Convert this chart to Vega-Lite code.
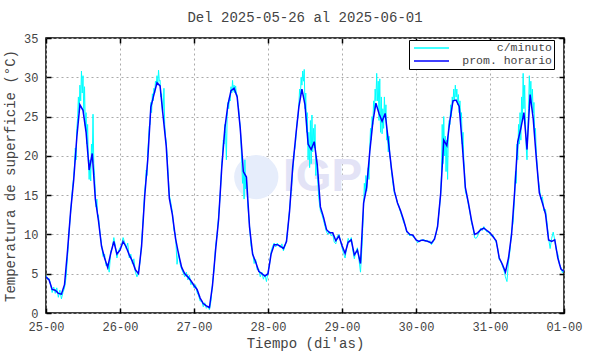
{
  "$schema": "https://vega.github.io/schema/vega-lite/v6.json",
  "autosize": "none",
  "width": 518,
  "height": 275,
  "padding": {"left": 46, "top": 38, "right": 26, "bottom": 41},
  "background": "white",
  "title": {"text": "Del 2025-05-26 al 2025-06-01", "font": "Liberation Mono", "fontSize": 14, "fontWeight": "normal", "color": "#444444", "offset": 7, "anchor": "middle"},
  "config": {
    "view": {"stroke": "black", "strokeWidth": 1.5},
    "axis": {"labelFont": "Liberation Mono", "labelFontSize": 12, "labelColor": "#444444", "titleFont": "Liberation Mono", "titleFontSize": 14, "titleFontWeight": "normal", "titleColor": "#444444", "domain": false, "tickColor": "black", "tickWidth": 1.5, "gridColor": "#aaaaaa", "gridDash": [2, 3], "gridWidth": 1, "labelFlush": false}
  },
  "datasets": {
    "horario": [
      {"h":0,"t":4.6},{"h":1,"t":4.2},{"h":2,"t":3.0},{"h":3,"t":2.9},{"h":4,"t":2.5},{"h":5,"t":2.4},{"h":6,"t":3.6},{"h":7,"t":8.0},{"h":8,"t":13.0},{"h":9,"t":17.0},{"h":10,"t":22.4},{"h":11,"t":26.5},{"h":12,"t":25.8},{"h":13,"t":23.0},{"h":14,"t":18.2},{"h":15,"t":20.3},{"h":16,"t":14.5},{"h":17,"t":11.8},{"h":18,"t":8.5},{"h":19,"t":7.0},{"h":20,"t":5.8},{"h":21,"t":7.6},{"h":22,"t":9.1},{"h":23,"t":7.5},
      {"h":24,"t":8.0},{"h":25,"t":9.1},{"h":26,"t":8.4},{"h":27,"t":7.4},{"h":28,"t":6.6},{"h":29,"t":5.5},{"h":30,"t":5.0},{"h":31,"t":8.5},{"h":32,"t":14.8},{"h":33,"t":19.5},{"h":34,"t":26.2},{"h":35,"t":27.8},{"h":36,"t":29.3},{"h":37,"t":28.9},{"h":38,"t":25.0},{"h":39,"t":21.2},{"h":40,"t":14.6},{"h":41,"t":12.5},{"h":42,"t":9.5},{"h":43,"t":7.5},{"h":44,"t":5.8},{"h":45,"t":5.0},{"h":46,"t":4.6},{"h":47,"t":4.1},
      {"h":48,"t":3.5},{"h":49,"t":3.0},{"h":50,"t":1.9},{"h":51,"t":1.2},{"h":52,"t":0.9},{"h":53,"t":0.7},{"h":54,"t":3.5},{"h":55,"t":8.0},{"h":56,"t":12.0},{"h":57,"t":18.5},{"h":58,"t":23.5},{"h":59,"t":26.5},{"h":60,"t":28.3},{"h":61,"t":28.6},{"h":62,"t":27.5},{"h":63,"t":23.5},{"h":64,"t":18.0},{"h":65,"t":17.3},{"h":66,"t":11.0},{"h":67,"t":7.5},{"h":68,"t":6.5},{"h":69,"t":5.3},{"h":70,"t":5.0},{"h":71,"t":4.7},
      {"h":72,"t":5.0},{"h":73,"t":7.5},{"h":74,"t":8.7},{"h":75,"t":8.7},{"h":76,"t":8.5},{"h":77,"t":8.2},{"h":78,"t":9.1},{"h":79,"t":13.0},{"h":80,"t":18.5},{"h":81,"t":22.5},{"h":82,"t":26.2},{"h":83,"t":28.5},{"h":84,"t":26.5},{"h":85,"t":21.5},{"h":86,"t":20.8},{"h":87,"t":21.8},{"h":88,"t":18.8},{"h":89,"t":13.5},{"h":90,"t":12.2},{"h":91,"t":10.6},{"h":92,"t":10.2},{"h":93,"t":10.2},{"h":94,"t":9.2},{"h":95,"t":9.8},
      {"h":96,"t":8.6},{"h":97,"t":7.6},{"h":98,"t":9.0},{"h":99,"t":9.3},{"h":100,"t":7.4},{"h":101,"t":8.0},{"h":102,"t":6.3},{"h":103,"t":14.0},{"h":104,"t":16.0},{"h":105,"t":20.5},{"h":106,"t":24.3},{"h":107,"t":26.7},{"h":108,"t":25.4},{"h":109,"t":24.4},{"h":110,"t":25.4},{"h":111,"t":22.0},{"h":112,"t":18.5},{"h":113,"t":15.5},{"h":114,"t":14.0},{"h":115,"t":13.0},{"h":116,"t":11.8},{"h":117,"t":10.4},{"h":118,"t":10.0},{"h":119,"t":9.9},
      {"h":120,"t":9.3},{"h":121,"t":9.1},{"h":122,"t":9.3},{"h":123,"t":9.2},{"h":124,"t":9.1},{"h":125,"t":8.9},{"h":126,"t":9.4},{"h":127,"t":11.0},{"h":128,"t":15.2},{"h":129,"t":22.0},{"h":130,"t":21.3},{"h":131,"t":24.5},{"h":132,"t":27.0},{"h":133,"t":27.1},{"h":134,"t":26.3},{"h":135,"t":21.5},{"h":136,"t":16.0},{"h":137,"t":14.0},{"h":138,"t":11.8},{"h":139,"t":10.0},{"h":140,"t":10.2},{"h":141,"t":10.6},{"h":142,"t":10.8},{"h":143,"t":10.5},
      {"h":144,"t":10.2},{"h":145,"t":9.7},{"h":146,"t":9.2},{"h":147,"t":7.0},{"h":148,"t":6.2},{"h":149,"t":5.2},{"h":150,"t":7.0},{"h":151,"t":10.0},{"h":152,"t":15.5},{"h":153,"t":21.8},{"h":154,"t":23.5},{"h":155,"t":25.5},{"h":156,"t":20.8},{"h":157,"t":27.8},{"h":158,"t":24.8},{"h":159,"t":19.8},{"h":160,"t":15.3},{"h":161,"t":14.0},{"h":162,"t":12.6},{"h":163,"t":9.3},{"h":164,"t":9.1},{"h":165,"t":9.3},{"h":166,"t":7.0},{"h":167,"t":5.6},{"h":168,"t":5.3}
    ],
    "minuto": [
      {"h":0,"t":4.8},{"h":0.5,"t":4.3},{"h":1,"t":4.4},{"h":1.5,"t":3.6},{"h":2,"t":2.6},{"h":2.5,"t":3.3},{"h":3,"t":2.5},{"h":3.5,"t":3.2},{"h":4,"t":2.0},{"h":4.5,"t":2.9},{"h":5,"t":1.8},{"h":5.5,"t":2.6},{"h":6,"t":3.2},{"h":6.5,"t":4.5},{"h":7,"t":7.2},{"h":7.5,"t":10.5},{"h":8,"t":12.8},{"h":8.5,"t":15.5},{"h":9,"t":17.5},{"h":9.25,"t":18.8},{"h":9.5,"t":21.0},{"h":9.75,"t":19.5},{"h":10,"t":23.5},{"h":10.25,"t":24.8},{"h":10.5,"t":27.5},{"h":10.75,"t":25.5},{"h":11,"t":29.0},{"h":11.25,"t":27.0},{"h":11.5,"t":30.8},{"h":11.75,"t":28.0},{"h":12,"t":30.2},{"h":12.25,"t":25.5},{"h":12.5,"t":28.8},{"h":12.75,"t":23.8},{"h":13,"t":25.5},{"h":13.25,"t":21.5},{"h":13.5,"t":24.0},{"h":13.75,"t":19.5},{"h":14,"t":17.0},{"h":14.25,"t":19.5},{"h":14.5,"t":16.8},{"h":14.75,"t":21.5},{"h":15,"t":19.5},{"h":15.25,"t":25.3},{"h":15.5,"t":19.0},{"h":15.75,"t":17.5},{"h":16,"t":15.2},{"h":16.25,"t":13.5},{"h":16.5,"t":14.5},{"h":16.75,"t":12.2},{"h":17,"t":12.5},{"h":17.5,"t":10.2},{"h":18,"t":8.8},{"h":18.5,"t":7.2},{"h":19,"t":7.5},{"h":19.5,"t":6.0},{"h":20,"t":6.3},{"h":20.5,"t":5.2},{"h":21,"t":7.8},{"h":21.5,"t":8.3},{"h":22,"t":9.6},{"h":22.5,"t":8.5},{"h":23,"t":7.0},{"h":23.5,"t":7.9},
      {"h":24,"t":8.3},{"h":24.5,"t":8.6},{"h":25,"t":9.6},{"h":25.5,"t":9.0},{"h":26,"t":8.2},{"h":26.5,"t":8.9},{"h":27,"t":7.0},{"h":27.5,"t":7.5},{"h":28,"t":6.3},{"h":28.5,"t":6.9},{"h":29,"t":5.2},{"h":29.5,"t":4.6},{"h":30,"t":5.3},{"h":30.5,"t":6.5},{"h":31,"t":8.9},{"h":31.5,"t":12.0},{"h":32,"t":15.5},{"h":32.25,"t":16.5},{"h":32.5,"t":18.2},{"h":32.75,"t":17.5},{"h":33,"t":20.5},{"h":33.25,"t":22.0},{"h":33.5,"t":23.8},{"h":33.75,"t":24.0},{"h":34,"t":26.8},{"h":34.25,"t":25.5},{"h":34.5,"t":27.9},{"h":34.75,"t":27.0},{"h":35,"t":28.6},{"h":35.25,"t":28.0},{"h":35.5,"t":29.5},{"h":35.75,"t":29.0},{"h":36,"t":30.2},{"h":36.25,"t":29.0},{"h":36.5,"t":30.9},{"h":36.75,"t":29.5},{"h":37,"t":29.6},{"h":37.25,"t":27.5},{"h":37.5,"t":27.9},{"h":37.75,"t":25.5},{"h":38,"t":26.0},{"h":38.25,"t":28.6},{"h":38.5,"t":24.0},{"h":38.75,"t":22.5},{"h":39,"t":21.8},{"h":39.5,"t":18.5},{"h":40,"t":15.0},{"h":40.5,"t":14.0},{"h":41,"t":12.8},{"h":41.5,"t":10.5},{"h":42,"t":10.0},{"h":42.5,"t":6.2},{"h":43,"t":7.8},{"h":43.5,"t":6.2},{"h":44,"t":5.6},{"h":44.5,"t":5.1},{"h":45,"t":4.6},{"h":45.5,"t":5.2},{"h":46,"t":4.2},{"h":46.5,"t":4.8},{"h":47,"t":3.6},{"h":47.5,"t":3.9},
      {"h":48,"t":3.2},{"h":48.5,"t":3.6},{"h":49,"t":2.6},{"h":49.5,"t":2.2},{"h":50,"t":1.5},{"h":50.5,"t":1.6},{"h":51,"t":0.8},{"h":51.5,"t":1.3},{"h":52,"t":0.6},{"h":52.5,"t":0.9},{"h":53,"t":0.4},{"h":53.5,"t":1.5},{"h":54,"t":3.8},{"h":54.5,"t":5.5},{"h":55,"t":8.5},{"h":55.5,"t":10.0},{"h":56,"t":12.5},{"h":56.5,"t":15.0},{"h":57,"t":19.0},{"h":57.25,"t":20.0},{"h":57.5,"t":22.0},{"h":57.75,"t":21.5},{"h":58,"t":24.0},{"h":58.25,"t":22.8},{"h":58.5,"t":19.5},{"h":58.75,"t":25.0},{"h":59,"t":26.8},{"h":59.25,"t":26.0},{"h":59.5,"t":27.5},{"h":59.75,"t":27.0},{"h":60,"t":28.8},{"h":60.25,"t":28.0},{"h":60.5,"t":29.6},{"h":60.75,"t":28.2},{"h":61,"t":29.0},{"h":61.25,"t":28.0},{"h":61.5,"t":28.9},{"h":61.75,"t":27.8},{"h":62,"t":27.8},{"h":62.25,"t":26.5},{"h":62.5,"t":26.0},{"h":62.75,"t":24.5},{"h":63,"t":23.8},{"h":63.25,"t":21.5},{"h":63.5,"t":19.0},{"h":63.75,"t":16.5},{"h":64,"t":18.2},{"h":64.25,"t":14.5},{"h":64.5,"t":19.5},{"h":64.75,"t":15.8},{"h":65,"t":17.0},{"h":65.5,"t":13.5},{"h":66,"t":11.2},{"h":66.5,"t":8.5},{"h":67,"t":7.8},{"h":67.5,"t":6.3},{"h":68,"t":6.8},{"h":68.5,"t":5.5},{"h":69,"t":5.6},{"h":69.5,"t":4.6},{"h":70,"t":5.2},{"h":70.5,"t":4.3},{"h":71,"t":4.9},{"h":71.5,"t":4.0},
      {"h":72,"t":5.2},{"h":72.5,"t":6.2},{"h":73,"t":7.8},{"h":73.5,"t":8.5},{"h":74,"t":8.9},{"h":74.5,"t":8.4},{"h":75,"t":8.9},{"h":75.5,"t":8.6},{"h":76,"t":8.3},{"h":76.5,"t":8.8},{"h":77,"t":7.9},{"h":77.5,"t":8.5},{"h":78,"t":9.3},{"h":78.5,"t":11.0},{"h":79,"t":13.2},{"h":79.5,"t":15.5},{"h":80,"t":18.0},{"h":80.25,"t":19.0},{"h":80.5,"t":20.5},{"h":80.75,"t":21.0},{"h":81,"t":22.0},{"h":81.25,"t":23.5},{"h":81.5,"t":24.5},{"h":81.75,"t":25.0},{"h":82,"t":26.5},{"h":82.25,"t":28.5},{"h":82.5,"t":27.5},{"h":82.75,"t":30.0},{"h":83,"t":29.0},{"h":83.25,"t":30.8},{"h":83.5,"t":29.5},{"h":83.75,"t":31.0},{"h":84,"t":26.0},{"h":84.25,"t":28.0},{"h":84.5,"t":23.0},{"h":84.75,"t":25.5},{"h":85,"t":19.5},{"h":85.25,"t":23.0},{"h":85.5,"t":18.5},{"h":85.75,"t":24.5},{"h":86,"t":19.0},{"h":86.25,"t":25.2},{"h":86.5,"t":20.5},{"h":86.75,"t":23.5},{"h":87,"t":21.0},{"h":87.25,"t":24.0},{"h":87.5,"t":17.5},{"h":87.75,"t":19.5},{"h":88,"t":17.5},{"h":88.5,"t":14.5},{"h":89,"t":13.0},{"h":89.5,"t":12.5},{"h":90,"t":11.8},{"h":90.5,"t":11.0},{"h":91,"t":10.3},{"h":91.5,"t":10.0},{"h":92,"t":10.4},{"h":92.5,"t":9.8},{"h":93,"t":10.0},{"h":93.5,"t":9.0},{"h":94,"t":8.8},{"h":94.5,"t":9.8},{"h":95,"t":10.0},{"h":95.5,"t":9.2},
      {"h":96,"t":8.3},{"h":96.5,"t":7.6},{"h":97,"t":7.0},{"h":97.5,"t":8.3},{"h":98,"t":9.5},{"h":98.5,"t":9.0},{"h":99,"t":9.6},{"h":99.5,"t":8.0},{"h":100,"t":6.9},{"h":100.5,"t":7.8},{"h":101,"t":8.3},{"h":101.5,"t":6.8},{"h":102,"t":5.2},{"h":102.5,"t":8.5},{"h":103,"t":13.5},{"h":103.25,"t":16.5},{"h":103.5,"t":15.0},{"h":103.75,"t":17.5},{"h":104,"t":15.5},{"h":104.25,"t":17.5},{"h":104.5,"t":18.5},{"h":104.75,"t":17.0},{"h":105,"t":21.0},{"h":105.25,"t":23.5},{"h":105.5,"t":22.0},{"h":105.75,"t":25.0},{"h":106,"t":24.0},{"h":106.25,"t":27.0},{"h":106.5,"t":25.5},{"h":106.75,"t":28.5},{"h":107,"t":27.0},{"h":107.25,"t":30.5},{"h":107.5,"t":27.0},{"h":107.75,"t":29.5},{"h":108,"t":24.5},{"h":108.25,"t":29.8},{"h":108.5,"t":23.0},{"h":108.75,"t":27.5},{"h":109,"t":22.8},{"h":109.25,"t":26.0},{"h":109.5,"t":23.5},{"h":109.75,"t":27.5},{"h":110,"t":24.8},{"h":110.25,"t":26.5},{"h":110.5,"t":22.0},{"h":110.75,"t":23.0},{"h":111,"t":20.5},{"h":111.25,"t":22.5},{"h":111.5,"t":20.0},{"h":111.75,"t":19.5},{"h":112,"t":18.2},{"h":112.5,"t":16.5},{"h":113,"t":15.2},{"h":113.5,"t":14.8},{"h":114,"t":14.0},{"h":114.5,"t":13.6},{"h":115,"t":12.8},{"h":115.5,"t":12.2},{"h":116,"t":11.5},{"h":116.5,"t":11.2},{"h":117,"t":10.3},{"h":117.5,"t":10.1},{"h":118,"t":9.8},{"h":118.5,"t":10.0},{"h":119,"t":9.7},{"h":119.5,"t":9.6},
      {"h":120,"t":9.4},{"h":120.5,"t":8.9},{"h":121,"t":9.2},{"h":121.5,"t":9.3},{"h":122,"t":9.2},{"h":122.5,"t":9.4},{"h":123,"t":9.1},{"h":123.5,"t":9.3},{"h":124,"t":9.0},{"h":124.5,"t":9.2},{"h":125,"t":8.7},{"h":125.5,"t":9.0},{"h":126,"t":9.6},{"h":126.5,"t":10.0},{"h":127,"t":11.2},{"h":127.5,"t":13.0},{"h":128,"t":15.0},{"h":128.25,"t":17.5},{"h":128.5,"t":24.0},{"h":128.75,"t":19.0},{"h":129,"t":25.0},{"h":129.25,"t":20.0},{"h":129.5,"t":22.5},{"h":129.75,"t":18.0},{"h":130,"t":22.0},{"h":130.25,"t":17.0},{"h":130.5,"t":23.5},{"h":130.75,"t":24.5},{"h":131,"t":24.0},{"h":131.25,"t":26.5},{"h":131.5,"t":25.0},{"h":131.75,"t":27.5},{"h":132,"t":26.8},{"h":132.25,"t":28.5},{"h":132.5,"t":27.0},{"h":132.75,"t":29.0},{"h":133,"t":27.5},{"h":133.25,"t":28.5},{"h":133.5,"t":26.5},{"h":133.75,"t":27.8},{"h":134,"t":25.5},{"h":134.25,"t":27.0},{"h":134.5,"t":24.5},{"h":134.75,"t":25.5},{"h":135,"t":21.5},{"h":135.25,"t":23.0},{"h":135.5,"t":19.5},{"h":135.75,"t":18.0},{"h":136,"t":15.5},{"h":136.5,"t":14.8},{"h":137,"t":13.8},{"h":137.5,"t":12.8},{"h":138,"t":11.5},{"h":138.5,"t":10.8},{"h":139,"t":9.6},{"h":139.5,"t":9.5},{"h":140,"t":9.8},{"h":140.5,"t":10.3},{"h":141,"t":10.8},{"h":141.5,"t":10.5},{"h":142,"t":11.0},{"h":142.5,"t":10.6},{"h":143,"t":10.3},{"h":143.5,"t":10.4},
      {"h":144,"t":10.0},{"h":144.5,"t":9.8},{"h":145,"t":9.9},{"h":145.5,"t":9.4},{"h":146,"t":9.0},{"h":146.5,"t":8.2},{"h":147,"t":6.8},{"h":147.5,"t":6.6},{"h":148,"t":6.0},{"h":148.5,"t":5.5},{"h":149,"t":4.6},{"h":149.5,"t":4.0},{"h":150,"t":6.5},{"h":150.5,"t":8.0},{"h":151,"t":10.5},{"h":151.5,"t":11.5},{"h":152,"t":15.0},{"h":152.25,"t":18.0},{"h":152.5,"t":16.5},{"h":152.75,"t":21.5},{"h":153,"t":19.5},{"h":153.25,"t":24.0},{"h":153.5,"t":21.5},{"h":153.75,"t":25.5},{"h":154,"t":22.0},{"h":154.25,"t":27.5},{"h":154.5,"t":24.5},{"h":154.75,"t":30.5},{"h":155,"t":26.0},{"h":155.25,"t":29.0},{"h":155.5,"t":24.0},{"h":155.75,"t":21.0},{"h":156,"t":19.5},{"h":156.25,"t":23.0},{"h":156.5,"t":26.0},{"h":156.75,"t":30.2},{"h":157,"t":27.5},{"h":157.25,"t":29.5},{"h":157.5,"t":26.5},{"h":157.75,"t":28.5},{"h":158,"t":25.5},{"h":158.25,"t":26.8},{"h":158.5,"t":22.5},{"h":158.75,"t":23.5},{"h":159,"t":20.5},{"h":159.5,"t":17.5},{"h":160,"t":16.0},{"h":160.5,"t":14.5},{"h":161,"t":14.8},{"h":161.5,"t":13.0},{"h":162,"t":13.2},{"h":162.5,"t":11.5},{"h":163,"t":9.5},{"h":163.5,"t":8.2},{"h":164,"t":9.5},{"h":164.5,"t":10.3},{"h":165,"t":9.3},{"h":165.5,"t":8.0},{"h":166,"t":7.5},{"h":166.5,"t":6.2},{"h":167,"t":5.8},{"h":167.5,"t":5.1},{"h":168,"t":5.5}
    ],
    "marca": [{"h": 68.2, "t": 17.3, "texto": "IGP", "h2": 89.7}]
  },
  "resolve": {"axis": {"x": "independent", "y": "independent"}},
  "layer": [
    {
      "data": {"name": "marca"},
      "mark": {"type": "point", "shape": "circle", "filled": true, "size": 1960, "color": "#e6edfb", "opacity": 1},
      "encoding": {
        "x": {"field": "h", "type": "quantitative", "scale": {"domain": [0, 168]}, "axis": null},
        "y": {"field": "t", "type": "quantitative", "scale": {"domain": [0, 35]}, "axis": null}
      }
    },
    {
      "data": {"name": "marca"},
      "mark": {"type": "text", "font": "Liberation Sans", "fontSize": 46, "fontWeight": "bold", "color": "#e3e3f6", "baseline": "middle", "align": "center"},
      "encoding": {
        "x": {"field": "h2", "type": "quantitative", "axis": null},
        "y": {"field": "t", "type": "quantitative", "axis": null},
        "text": {"field": "texto"}
      }
    },
    {
      "data": {"name": "minuto"},
      "mark": {"type": "line", "strokeWidth": 1, "clip": true},
      "encoding": {
        "x": {"field": "h", "type": "quantitative", "scale": {"domain": [0, 168], "nice": false},
          "axis": {"orient": "bottom", "title": "Tiempo (di'as)", "values": [0, 24, 48, 72, 96, 120, 144, 168],
            "labelExpr": "['25-00','26-00','27-00','28-00','29-00','30-00','31-00','01-00'][round(datum.value/24)]",
            "grid": true, "ticks": true, "tickSize": -5, "labelPadding": 13, "titlePadding": 4}},
        "y": {"field": "t", "type": "quantitative", "scale": {"domain": [0, 35], "nice": false},
          "axis": {"orient": "left", "title": "Temperatura de superficie (°C)", "values": [0, 5, 10, 15, 20, 25, 30, 35],
            "grid": true, "ticks": true, "tickSize": -5, "labelPadding": 13, "titlePadding": 6}},
        "color": {"datum": "c/minuto", "type": "nominal",
          "scale": {"domain": ["c/minuto", "prom. horario"], "range": ["#00ffff", "#0000ff"]},
          "legend": {"title": null, "orient": "none", "legendX": 363, "legendY": 2, "symbolType": "M-0.6,0H6.4", "symbolSize": 100, "symbolStrokeWidth": 1.5,
            "labelFont": "Liberation Mono", "labelFontSize": 11.5, "labelColor": "#444444", "labelAlign": "right", "labelOffset": 129,
            "strokeColor": "black", "fillColor": "white", "padding": 2, "rowPadding": 1, "labelLimit": 200}}
      }
    },
    {
      "data": {"name": "horario"},
      "mark": {"type": "line", "strokeWidth": 1.5, "clip": true},
      "encoding": {
        "x": {"field": "h", "type": "quantitative",
          "axis": {"orient": "top", "title": null, "labels": false, "values": [0, 24, 48, 72, 96, 120, 144, 168], "grid": false, "ticks": true, "tickSize": -5}},
        "y": {"field": "t", "type": "quantitative",
          "axis": {"orient": "right", "title": null, "labels": false, "values": [0, 5, 10, 15, 20, 25, 30, 35], "grid": false, "ticks": true, "tickSize": -5}},
        "color": {"datum": "prom. horario", "type": "nominal"}
      }
    }
  ]
}
